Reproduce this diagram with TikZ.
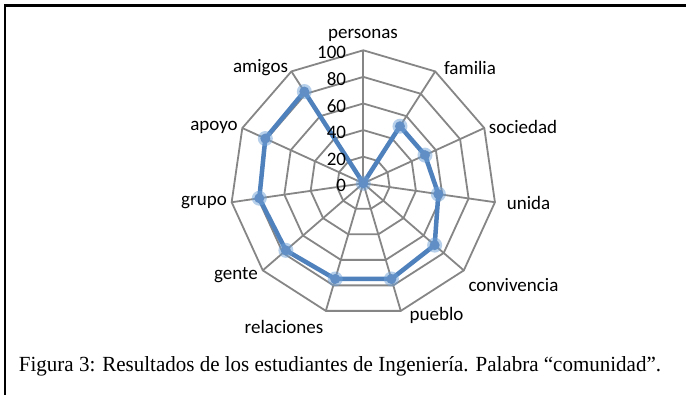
\documentclass[tikz,border=0pt]{standalone}
\usepackage{fontspec}
\setmainfont{Carlito}
\newfontfamily\capfont{Liberation Serif}
\usepackage{graphicx}
\definecolor{gridgray}{RGB}{134,134,134}
\definecolor{databl}{RGB}{79,129,189}
\definecolor{markbl}{RGB}{110,160,215}
\tikzset{
  gridline/.style={draw=gridgray, line width=1.8pt, line join=miter},
  dataline/.style={draw=databl, line width=4.5pt, line join=round},
  lbl/.style={font=\fontsize{19}{19}\selectfont, inner sep=0pt, text=black},
  ticklbl/.style={font=\fontsize{19}{19}\selectfont, inner sep=0pt, anchor=east},
}
\begin{document}
\begin{tikzpicture}[x=1pt,y=1pt]
\useasboundingbox (0,0) rectangle (686,395);
\fill[white] (0,0) rectangle (686,395);
\draw[line width=2.2pt] (5,0) -- (5,389.5) -- (686,389.5);
\begin{scope}[shift={(363.3,211.7)}]
  \foreach \k in {1,...,5} {
    \draw[gridline] (90:\k*26.6) \foreach \i in {1,...,10} { -- ({90-\i*360/11}:\k*26.6) } -- cycle;
  }
  \foreach \i in {0,...,10} {
    \draw[gridline] (0,0) -- ({90-\i*360/11}:133);
  }
  \foreach \v [count=\i from 0] in {0,51,51,57,71,75,75,77,79,81,82} {
    \coordinate (d\i) at ({90-\i*360/11}:{\v*1.33});
  }
  \draw[dataline] (d0) -- (d1) -- (d2) -- (d3) -- (d4) -- (d5) -- (d6) -- (d7) -- (d8) -- (d9) -- (d10) -- cycle;
  \foreach \i in {0,...,10} {
    \fill[markbl, opacity=0.5] (d\i) circle (7.5);
    \fill[databl!90!white] (d\i) circle (5);
  }
  \foreach \k/\t in {0/0,1/20,2/40,3/60,4/80,5/100} {
    \node[ticklbl] (t\t) at (-17,\k*26.6-2.5) {\t};
  }
\end{scope}
\node[lbl] (personas) at (363,360) {personas};
\node[lbl] (familia) at (470,327) {familia};
\node[lbl] (sociedad) at (523,268) {sociedad};
\node[lbl] (unida) at (528.5,192) {unida};
\node[lbl] (convivencia) at (513.5,110) {convivencia};
\node[lbl] (pueblo) at (436.5,80) {pueblo};
\node[lbl] (relaciones) at (284,68) {relaciones};
\node[lbl] (gente) at (236,120) {gente};
\node[lbl] (grupo) at (204,192) {grupo};
\node[lbl] (apoyo) at (214,268) {apoyo};
\node[lbl] (amigos) at (260.5,327) {amigos};
\node[inner sep=0pt, anchor=base] (caption) at (340,23) {\resizebox{642pt}{15pt}{\capfont Figura 3: Resultados de los estudiantes de Ingeniería. Palabra “comunidad”.}};
\end{tikzpicture}
\end{document}
